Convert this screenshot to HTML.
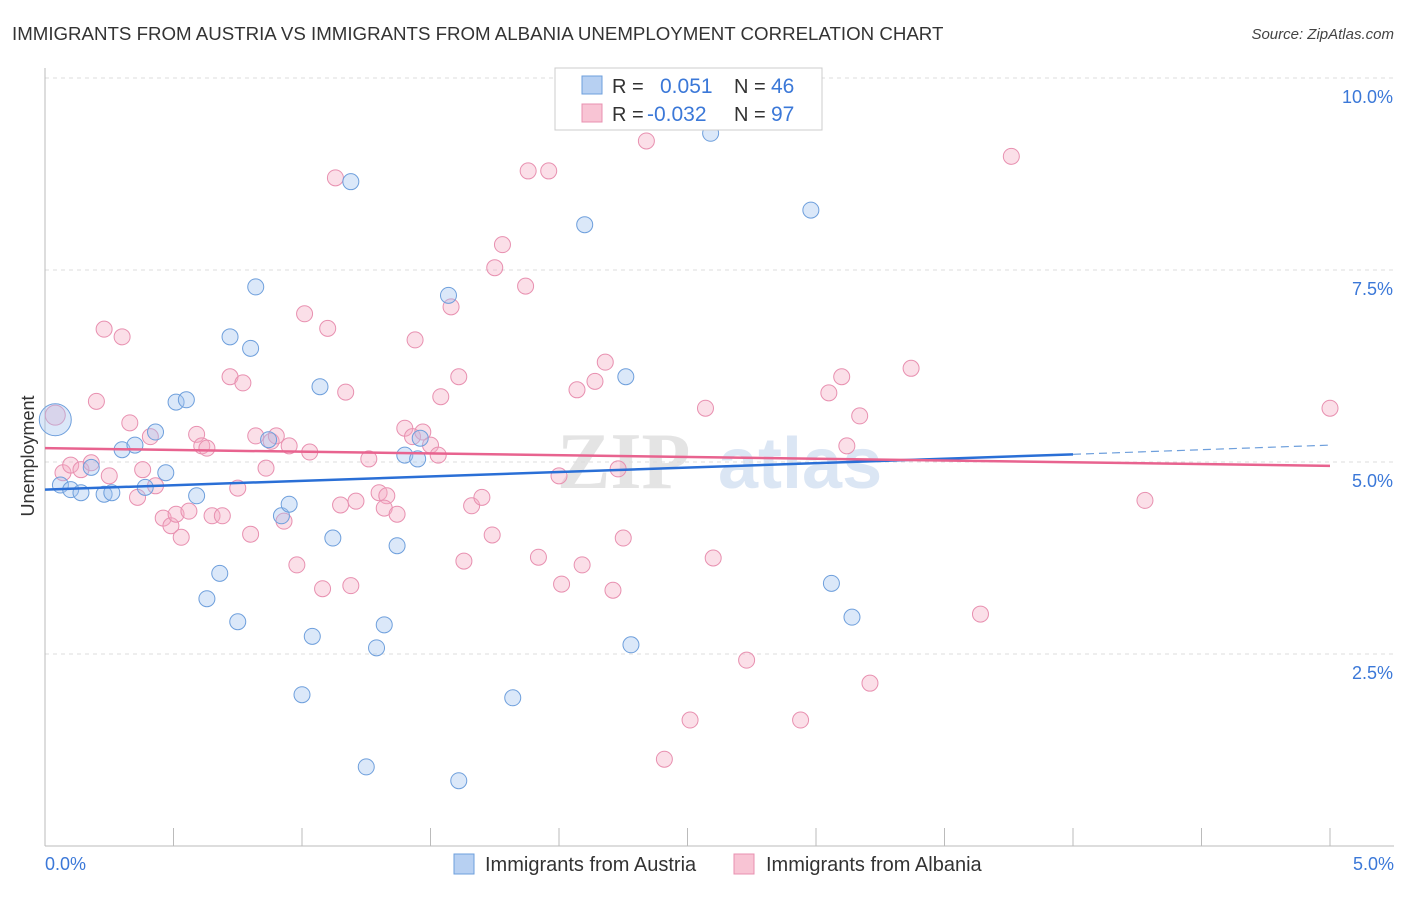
<!DOCTYPE html>
<html><head><meta charset="utf-8"><style>
body{margin:0;background:#fff;font-family:"Liberation Sans",sans-serif;}
#c{position:relative;width:1406px;height:892px;}
</style></head><body>
<div id="c">
<svg id="s" width="1406" height="892" xmlns="http://www.w3.org/2000/svg"></svg>
</div>
<script>
const xTicksPct=[0,0.5,1,1.5,2,2.5,3,3.5,4,4.5,5];
const yGrid=[2.5,5,7.5,10];
const yLabels=["2.5%","5.0%","7.5%","10.0%"];
const austriaX=[0.04,0.06,0.10,0.14,0.18,0.23,0.26,0.30,0.35,0.39,0.43,0.47,0.51,0.55,0.59,0.63,0.68,0.72,0.75,0.80,0.82,0.87,0.92,0.95,1.00,1.04,1.07,1.12,1.19,1.25,1.29,1.32,1.37,1.40,1.45,1.46,1.57,1.61,1.82,2.10,2.26,2.28,2.59,2.98,3.06,3.14];
const austriaY=[5.55,4.70,4.64,4.60,4.93,4.58,4.60,5.16,5.22,4.67,5.39,4.86,5.78,5.81,4.56,3.22,3.55,6.63,2.92,6.48,7.28,5.29,4.30,4.45,1.97,2.73,5.98,4.01,8.65,1.03,2.58,2.88,3.91,5.09,5.04,5.31,7.17,0.85,1.93,8.09,6.11,2.62,9.28,8.28,3.42,2.98];
const albaniaX=[0.04,0.07,0.10,0.14,0.18,0.23,0.25,0.30,0.20,0.33,0.36,0.38,0.41,0.43,0.46,0.49,0.51,0.53,0.56,0.59,0.61,0.63,0.65,0.69,0.72,0.75,0.77,0.80,0.82,0.86,0.88,0.90,0.93,0.95,0.98,1.01,1.03,1.08,1.10,1.13,1.17,1.19,1.21,1.15,1.26,1.30,1.33,1.32,1.37,1.40,1.43,1.44,1.47,1.50,1.53,1.54,1.58,1.61,1.63,1.66,1.70,1.74,1.75,1.78,1.87,1.88,1.92,1.96,2.00,2.01,2.07,2.09,2.14,2.18,2.21,2.23,2.25,2.34,2.41,2.51,2.57,2.60,2.73,2.94,3.05,3.10,3.12,3.17,3.21,3.37,3.64,3.76,4.28,5.00];
const albaniaY=[5.61,4.86,4.96,4.90,4.99,6.73,4.82,6.63,5.79,5.51,4.54,4.90,5.33,4.69,4.27,4.17,4.32,4.02,4.36,5.36,5.21,5.18,4.30,4.30,6.11,4.66,6.03,4.06,5.34,4.92,5.27,5.34,4.23,5.21,3.66,6.93,5.13,3.35,6.74,8.70,5.91,3.39,4.49,4.44,5.04,4.60,4.56,4.40,4.32,5.44,5.33,6.59,5.39,5.22,5.09,5.85,7.02,6.11,3.71,4.43,4.54,4.05,7.53,7.83,7.29,8.79,3.76,8.79,4.82,3.41,5.94,3.66,6.05,6.30,3.33,4.91,4.01,9.18,1.13,1.64,5.70,3.75,2.42,1.64,5.90,6.11,5.21,5.60,2.12,6.22,3.02,8.98,4.50,5.70];
const austriaTrend=[4.64,5.10,5.22]; // at x=0, 4.0, 5.0
const albaniaTrend=[5.18,4.95]; // at x=0, 5.0

const NS="http://www.w3.org/2000/svg";
const svg=document.getElementById('s');
const X=v=>45+v/5*1285;
const Y=v=>846-v/2.5*192;
function el(t,a,p){const e=document.createElementNS(NS,t);for(const k in a)e.setAttribute(k,a[k]);(p||svg).appendChild(e);return e;}
function tx(x,y,s,a,p){const e=el('text',a,p);e.textContent=s;return e;}

let t=tx(12,40,"IMMIGRANTS FROM AUSTRIA VS IMMIGRANTS FROM ALBANIA UNEMPLOYMENT CORRELATION CHART",{x:12,y:40,'font-size':18.7,fill:'#333'});


t=tx(0,0,"Source: ZipAtlas.com",{x:1394,y:39,'font-size':15,fill:'#444','font-style':'italic','text-anchor':'end'});



// watermark
t=tx(0,0,"ZIP",{x:557,y:488,'font-size':80,fill:'#e4e4e4','font-family':'Liberation Serif,serif','font-weight':'bold'});


t=tx(0,0,"atlas",{x:718,y:488,'font-size':72,fill:'#dbe6f4','font-weight':'bold'});



// grid
yGrid.forEach((v,i)=>{
 const g=el('line',{x1:45,x2:1394,y1:Y(v),y2:Y(v),stroke:'#ddd','stroke-dasharray':'4,4'});
 
 
 const l=tx(0,0,yLabels[i],{x:1393,y:Y(v)+25,'font-size':18,fill:'#3b78d8','text-anchor':'end'});
 
 
});
// axes
let a=el('line',{x1:45,x2:45,y1:68,y2:846,stroke:'#bbb'});


a=el('line',{x1:45,x2:1394,y1:846,y2:846,stroke:'#bbb'});


xTicksPct.forEach(v=>{
 const k=el('line',{x1:X(v),x2:X(v),y1:828,y2:846,stroke:'#bbb'});
 
 
});
t=tx(0,0,"0.0%",{x:45,y:870,'font-size':18,fill:'#3b78d8'});


t=tx(0,0,"5.0%",{x:1394,y:870,'font-size':18,fill:'#3b78d8','text-anchor':'end'});


t=tx(0,0,"Unemployment",{x:0,y:0,'font-size':18,fill:'#333','text-anchor':'middle',transform:'translate(34,456) rotate(-90)'});



// points
albaniaX.forEach((x,i)=>{
 const c=el('circle',{cx:X(x),cy:Y(albaniaY[i]),r:i==0?10:8,fill:'rgba(244,170,195,0.38)',stroke:'#e890b0','stroke-width':1});
 
 
});
austriaX.forEach((x,i)=>{
 const c=el('circle',{cx:X(x),cy:Y(austriaY[i]),r:i==0?16:8,fill:'rgba(160,195,238,0.38)',stroke:'#6e9fdc','stroke-width':1});
 
 
});
// trends
let l=el('line',{x1:X(0),y1:Y(austriaTrend[0]),x2:X(4),y2:Y(austriaTrend[1]),stroke:'#2a6fd6','stroke-width':2.5});


l=el('line',{x1:X(4),y1:Y(austriaTrend[1]),x2:X(5),y2:Y(austriaTrend[2]),stroke:'#6e9fdc','stroke-width':1.2,'stroke-dasharray':'8,5'});


l=el('line',{x1:X(0),y1:Y(albaniaTrend[0]),x2:X(5),y2:Y(albaniaTrend[1]),stroke:'#e8638f','stroke-width':2.5});



// stats legend
const lg=el('g',{});


el('rect',{x:555,y:68,width:267,height:62,fill:'#fff',stroke:'#ccc'},lg);
el('rect',{x:582,y:76,width:20,height:18,fill:'#b7d0f2',stroke:'#6e9fdc'},lg);
el('rect',{x:582,y:104,width:20,height:18,fill:'#f8c4d4',stroke:'#e890b0'},lg);
tx(0,0,"R =",{x:612,y:93,'font-size':20,fill:'#333'},lg);
tx(0,0,"0.051",{x:660,y:93,'font-size':21,fill:'#3b78d8'},lg);
tx(0,0,"N =",{x:734,y:93,'font-size':20,fill:'#333'},lg);
tx(0,0,"46",{x:771,y:93,'font-size':21,fill:'#3b78d8'},lg);
tx(0,0,"R =",{x:612,y:121,'font-size':20,fill:'#333'},lg);
tx(0,0,"-0.032",{x:647,y:121,'font-size':21,fill:'#3b78d8'},lg);
tx(0,0,"N =",{x:734,y:121,'font-size':20,fill:'#333'},lg);
tx(0,0,"97",{x:771,y:121,'font-size':21,fill:'#3b78d8'},lg);

// bottom legend
let r=el('rect',{x:454,y:854,width:20,height:20,fill:'#b7d0f2',stroke:'#6e9fdc'});


t=tx(0,0,"Immigrants from Austria",{x:485,y:871,'font-size':20,fill:'#333'});


r=el('rect',{x:734,y:854,width:20,height:20,fill:'#f8c4d4',stroke:'#e890b0'});


t=tx(0,0,"Immigrants from Albania",{x:766,y:871,'font-size':20,fill:'#333'});


</script>
</body></html>
